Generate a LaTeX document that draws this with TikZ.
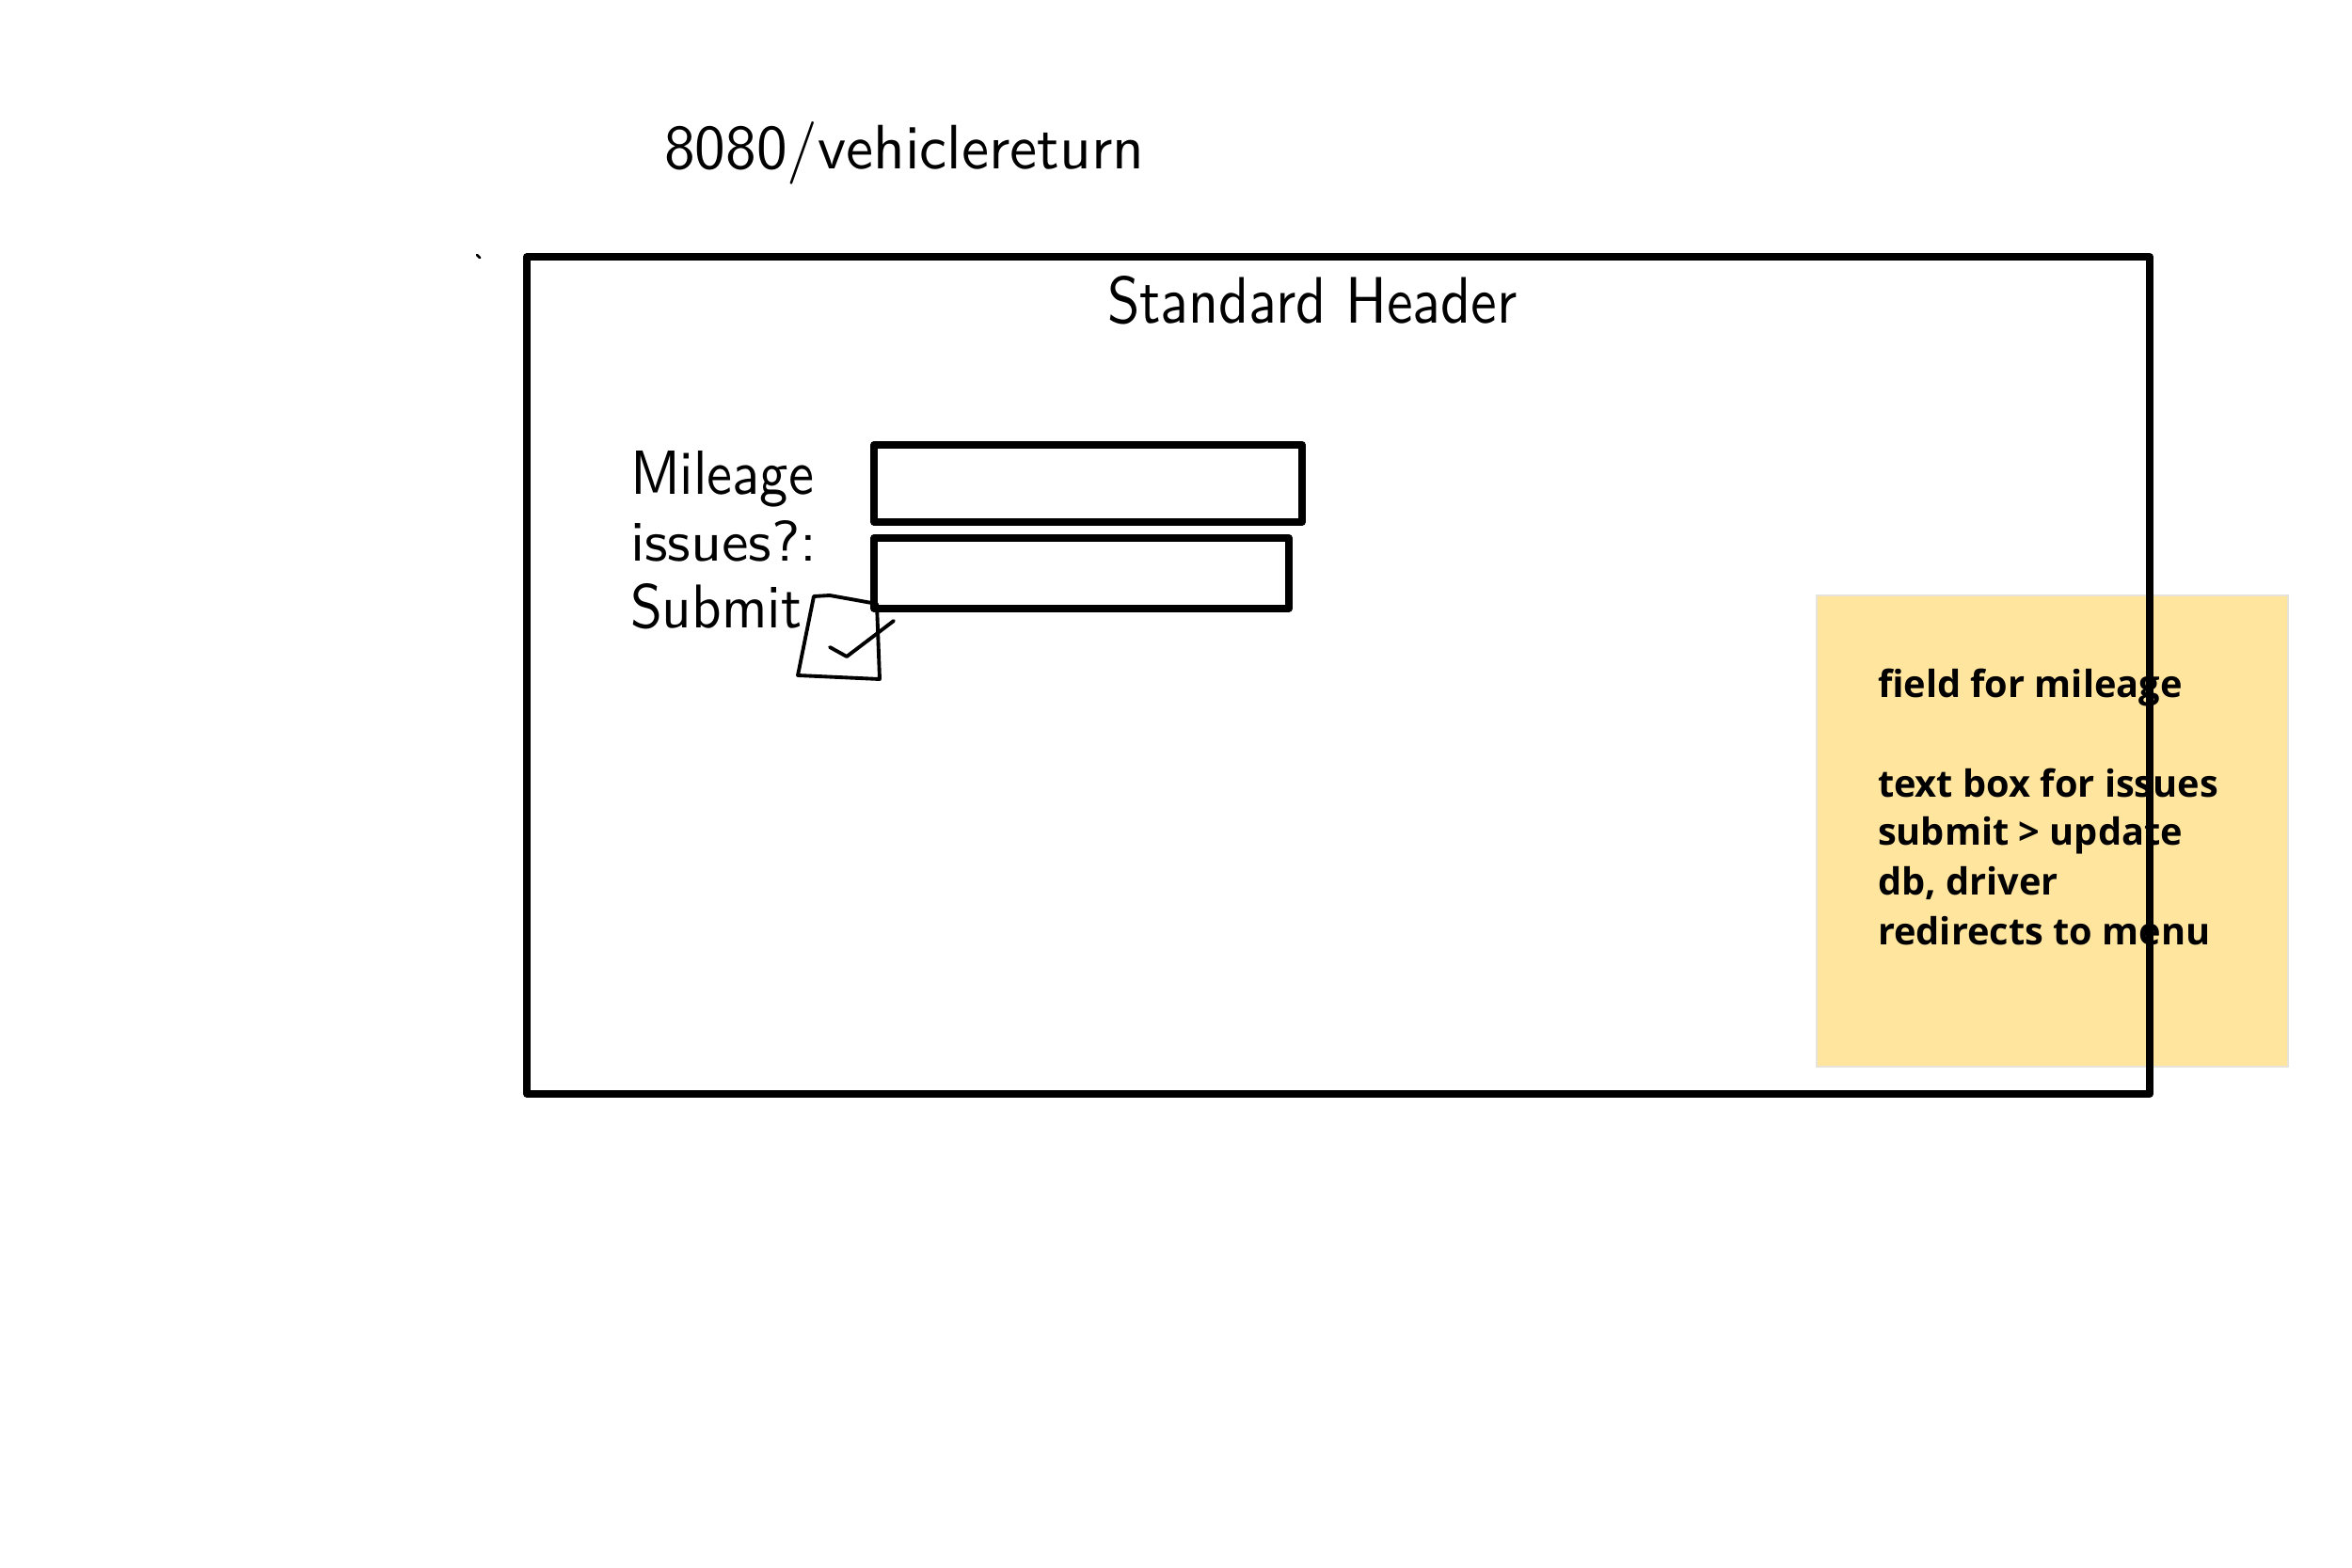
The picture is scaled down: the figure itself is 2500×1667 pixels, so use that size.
\documentclass[tikz,border=0pt]{standalone}
\usepackage{fontspec}
\usepackage{graphicx}
\newfontfamily\notefont{Open Sans}
\definecolor{notey}{HTML}{FFE59E}
\definecolor{noteedge}{HTML}{E6E3DA}
\begin{document}
\begin{tikzpicture}[x=0.01cm,y=-0.01cm,
  heavy/.style={line width=2.2pt, line cap=round, line join=round},
  light/.style={line width=1.1pt, line cap=round, line join=round},
  lbl/.style={anchor=base west, inner sep=0pt, outer sep=0pt},
  noteline/.style={anchor=base west, inner sep=0pt, outer sep=0pt,
     font=\notefont\bfseries\fontsize{11.3}{14}\selectfont},
  sticky/.style={anchor=north west, fill=notey, draw=noteedge, line width=0.5pt,
     minimum width=5.01cm, minimum height=5.01cm, inner sep=0pt}]
\useasboundingbox (0,0) rectangle (2500,1667);
\fill[white] (0,0) rectangle (2500,1667);

% title and header
\node[lbl] (title) at (706,180) {\resizebox{5.10cm}{0.50cm}{\sffamily 8080/vehiclereturn}};
\node[lbl] (header) at (1177,344) {\resizebox{4.35cm}{0.50cm}{\sffamily Standard Header}};

% labels
\node[lbl] (mileage) at (670,526) {\resizebox{1.95cm}{0.46cm}{\sffamily Mileage}};
\node[lbl] (issues) at (670,596) {\resizebox{1.98cm}{0.43cm}{\sffamily issues?:}};
\node[lbl] (submit) at (670,667) {\resizebox{1.82cm}{0.47cm}{\sffamily Submit}};

% input fields
\draw[heavy] (929,473) rectangle (1384,555);
\draw[heavy] (929,572) rectangle (1370,647);

% checkbox
\draw[light] (865,634) -- (882,633) -- (910,638) -- (932,642) -- (935,722) -- (848,718) -- cycle;
\draw[light] (882,688) -- (900,698) -- (950,660);

% stray dot
\draw[line width=0.8pt, line cap=round] (507,271) -- (510,274);

% sticky note
\node[sticky] (note) at (1930,632) {};
\node[noteline] (n1) at (1996,741) {field for mileage};
\node[noteline] (n2) at (1996,847) {text box for issues};
\node[noteline] (n3) at (1996,898) {submit > update};
\node[noteline] (n4) at (1996,951) {db, driver};
\node[noteline] (n5) at (1996,1004) {redirects to menu};

% frame on top
\draw[heavy] (560,273) rectangle (2285,1163);
\end{tikzpicture}
\end{document}
